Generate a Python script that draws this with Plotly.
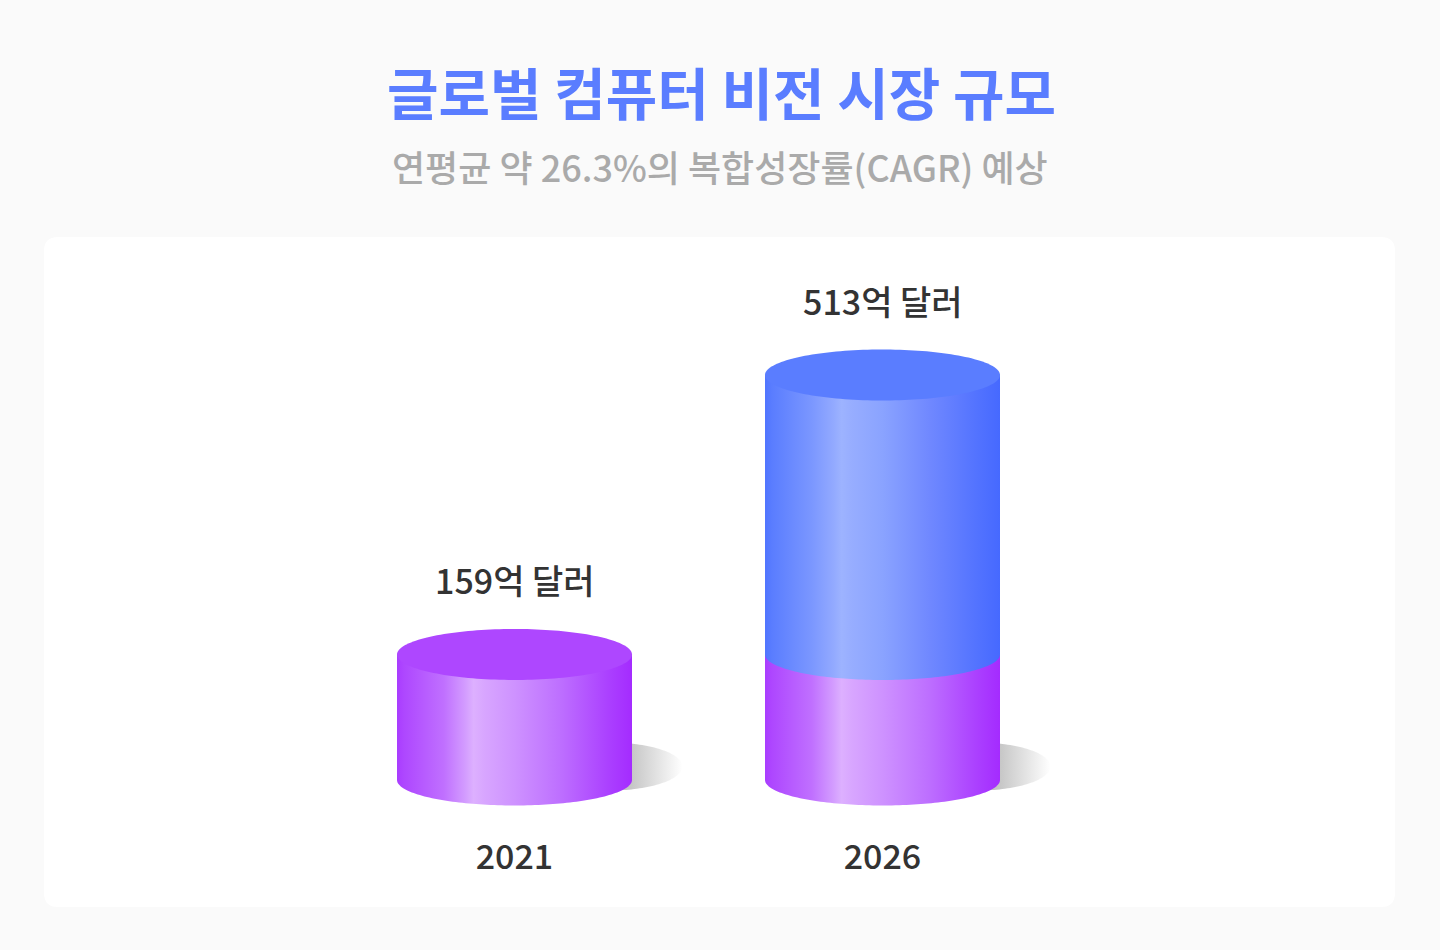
import numpy as np
import plotly.graph_objects as go

# data
years = ['2021', '2026']
market_2021_part = [159, 159]
market_total = [159, 513]
value_labels = ['159억 달러', '513억 달러']
title_text = '글로벌 컴퓨터 비전 시장 규모'
subtitle_text = '연평균 약 26.3%의 복합성장률(CAGR) 예상'

W, H = 1440, 950
FONT = 'Noto Sans CJK KR'

# pixel scale of the axes
px_per_year = 368
px_per_unit = 405 / 513
x0_px = 514.5
y0_px = 780
half_w = 117.5 / px_per_year
ry = 25.5 / px_per_unit

purple_scale = [[0, '#A93CFF'], [0.03, '#AE47FF'], [0.2, '#C070FF'], [0.29, '#D39CFF'], [0.326, '#DDB0FF'],
                [0.37, '#D8A6FF'], [0.5, '#CE92FF'], [0.7, '#BD6EFF'], [0.9, '#AB40FF'], [1, '#A42BFF']]
blue_scale = [[0, '#5075FF'], [0.03, '#5A7DFF'], [0.2, '#7B97FF'], [0.29, '#92A9FF'], [0.326, '#9DB3FF'],
              [0.37, '#97ADFF'], [0.5, '#8AA3FF'], [0.7, '#7088FF'], [0.9, '#5373FF'], [1, '#4669FF']]
shadow_scale = [[0, '#9A9A9A'], [0.65, '#C6C6C6'], [1, '#FFFFFF']]
PURPLE_TOP = '#AE47FF'
BLUE_TOP = '#5A7DFF'


def px_x(p):
    return p / W


def px_y(p):
    return 1 - p / H


def rounded_card(x0, y0, x1, y1, r):
    rx, ry_ = r / W, r / H
    a, b = px_x(x0), px_x(x1)
    t, u = px_y(y0), px_y(y1)
    return (f'M {a + rx} {t} L {b - rx} {t} Q {b} {t} {b} {t - ry_} L {b} {u + ry_} Q {b} {u} {b - rx} {u} '
            f'L {a + rx} {u} Q {a} {u} {a} {u + ry_} L {a} {t - ry_} Q {a} {t} {a + rx} {t} Z')


def add_ellipse(fig, cx, cy, color):
    t = np.linspace(0, 2 * np.pi, 160)
    fig.add_trace(go.Scatter(x=cx + half_w * np.cos(t), y=cy + ry * np.sin(t), mode='none',
                             fill='toself', fillcolor=color, hoverinfo='skip', showlegend=False))


def add_body(fig, cx, low, high, scale):
    t = np.linspace(np.pi, 2 * np.pi, 100)
    xs = np.concatenate([[cx - half_w], cx + half_w * np.cos(t), [cx + half_w]])
    ys = np.concatenate([[high], low + ry * np.sin(t), [high]])
    fig.add_trace(go.Scatter(x=xs, y=ys, mode='none', fill='toself',
                             fillgradient=dict(type='horizontal', colorscale=scale),
                             hoverinfo='skip', showlegend=False))


def add_shadow(fig, cx):
    t = np.linspace(0, 2 * np.pi, 160)
    sx = cx + (95 + 73 * np.cos(t)) / px_per_year
    sy = (13.5 + 24 * np.sin(t)) / px_per_unit
    fig.add_trace(go.Scatter(x=sx, y=sy, mode='none', fill='toself',
                             fillgradient=dict(type='horizontal', colorscale=shadow_scale),
                             hoverinfo='skip', showlegend=False))


fig = go.Figure()

for i in range(len(years)):
    add_shadow(fig, i)
    add_body(fig, i, 0, market_2021_part[i], purple_scale)
    if market_total[i] > market_2021_part[i]:
        add_body(fig, i, market_2021_part[i], market_total[i], blue_scale)
        add_ellipse(fig, i, market_total[i], BLUE_TOP)
    else:
        add_ellipse(fig, i, market_total[i], PURPLE_TOP)
    fig.add_annotation(x=i, y=market_total[i], yshift=75, text=value_labels[i], showarrow=False,
                       yanchor='middle', font=dict(family=FONT, size=34, color='#333333', weight=500))

fig.add_annotation(xref='paper', yref='paper', x=721 / W, y=px_y(90.5), text=title_text, showarrow=False,
                   yanchor='middle', font=dict(family=FONT, size=56, color='#5A7DFF', weight=700))
fig.add_annotation(xref='paper', yref='paper', x=719.5 / W, y=px_y(166.5), text=subtitle_text, showarrow=False,
                   yanchor='middle', font=dict(family=FONT, size=36, color='#AAAAAA', weight=500))

fig.add_shape(type='path', path=rounded_card(44, 237, 1395, 907, 14), xref='paper', yref='paper',
              fillcolor='#FFFFFF', line=dict(width=0), layer='below')

fig.update_layout(
    width=W, height=H,
    margin=dict(l=0, r=0, t=0, b=0),
    paper_bgcolor='#FAFAFA',
    plot_bgcolor='rgba(0,0,0,0)',
    showlegend=False,
    xaxis=dict(range=[-x0_px / px_per_year, (W - x0_px) / px_per_year],
               tickmode='array', tickvals=[0, 1], ticktext=years,
               tickfont=dict(family=FONT, size=34, color='#333333', weight=500),
               anchor='free', position=px_y(834), showgrid=False, zeroline=False,
               showline=False, ticks='', fixedrange=True),
    yaxis=dict(range=[(y0_px - H) / px_per_unit, y0_px / px_per_unit],
               visible=False, showgrid=False, zeroline=False, fixedrange=True),
)

fig.write_html('out.html', config=dict(displayModeBar=False), post_script="document.body.style.margin='0';")
